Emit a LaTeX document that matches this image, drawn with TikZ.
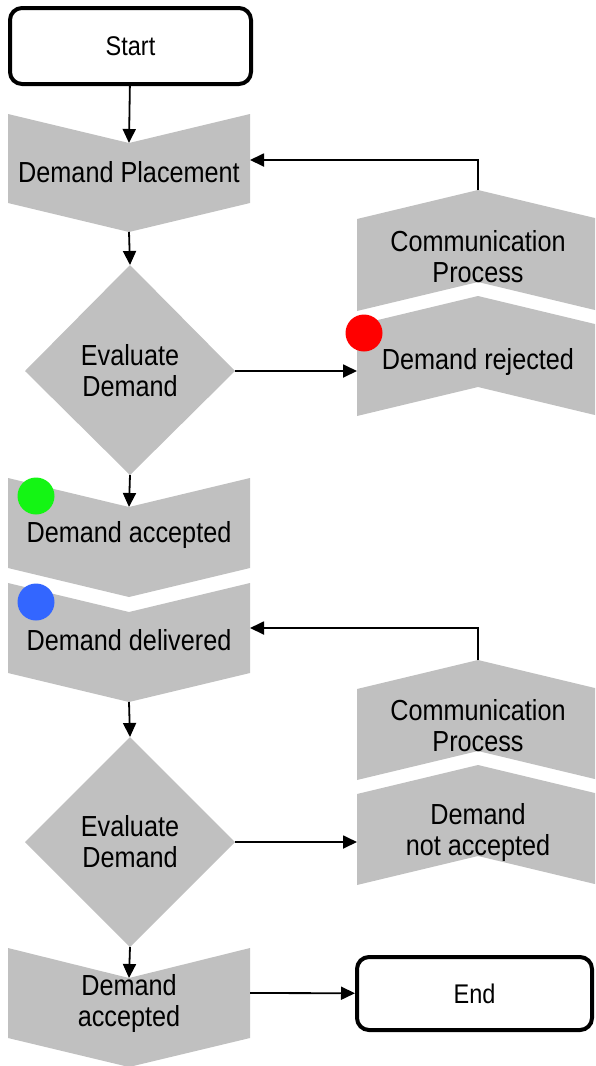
\documentclass[tikz,border=0pt]{standalone}
\usepackage{fontspec}
\setmainfont[FakeStretch=0.87]{Liberation Sans}
\usetikzlibrary{arrows.meta}
\definecolor{shapegray}{RGB}{192,192,192}
\definecolor{dotred}{RGB}{255,0,0}
\definecolor{dotgreen}{RGB}{20,245,20}
\definecolor{dotblue}{RGB}{51,102,255}
\begin{document}
\begin{tikzpicture}[x=1pt,y=-1pt,
  every node/.style={inner sep=0pt, align=center, font=\fontsize{29}{31}\selectfont},
  conn/.style={line width=1.8pt, -{Triangle[length=14pt,width=13pt]}},
  terminal/.style={draw, line width=4pt, rounded corners=12pt, fill=white,
    font=\fontsize{27}{31}\selectfont},
  chev/.style={fill=shapegray},
  dot/.style={circle, minimum size=37pt},
]
\useasboundingbox (0,0) rectangle (595,1066);
\clip (0,0) rectangle (595,1066);

% ---- left column: downward chevrons and decisions ----
% Demand Placement
\fill[chev] (8,114) -- (129,143) -- (250,114) -- (250,203) -- (129,232) -- (8,203) -- cycle;
\coordinate (place-in) at (129,143);
\coordinate (place-out) at (129,232);
\coordinate (place-side) at (250,160);

% first evaluation
\fill[chev] (130,265) -- (235,371) -- (130,475) -- (25,371) -- cycle;
\coordinate (eval1-top) at (130,265);
\coordinate (eval1-right) at (235,371);
\coordinate (eval1-bottom) at (130,475);

% Demand accepted
\fill[chev] (8,478) -- (129,507) -- (250,478) -- (250,568) -- (129,597) -- (8,568) -- cycle;
\coordinate (acc-in) at (129,507);

% Demand delivered
\fill[chev] (8,583) -- (129,612) -- (250,583) -- (250,673) -- (129,702) -- (8,673) -- cycle;
\coordinate (deliv-out) at (129,702);
\coordinate (deliv-side) at (250,628);

% second evaluation
\fill[chev] (130,737) -- (235,842) -- (130,947) -- (25,842) -- cycle;
\coordinate (eval2-top) at (130,737);
\coordinate (eval2-right) at (235,842);
\coordinate (eval2-bottom) at (130,947);

% final acceptance
\fill[chev] (8,948) -- (129,978) -- (250,948) -- (250,1038) -- (129,1067) -- (8,1038) -- cycle;
\coordinate (final-in) at (129,978);
\coordinate (final-side) at (250,993);

% ---- right column: upward chevrons ----
% Communication Process (first)
\fill[chev] (357,219) -- (478,190) -- (599,219) -- (599,311) -- (478,282) -- (357,311) -- cycle;
\coordinate (comm1-top) at (478,190);

% Demand rejected
\fill[chev] (357,325) -- (478,296) -- (599,325) -- (599,416) -- (478,387) -- (357,416) -- cycle;
\coordinate (rej-side) at (357,371);

% Communication Process (second)
\fill[chev] (357,689) -- (478,660) -- (599,689) -- (599,780) -- (478,751) -- (357,780) -- cycle;
\coordinate (comm2-top) at (478,660);

% Demand not accepted
\fill[chev] (357,794) -- (478,765) -- (599,794) -- (599,885) -- (478,856) -- (357,885) -- cycle;
\coordinate (notacc-side) at (357,842);

% ---- status dots ----
\node[dot, fill=dotred] (rej-dot) at (364,333) {};
\node[dot, fill=dotgreen] (acc-dot) at (36,496) {};
\node[dot, fill=dotblue] (deliv-dot) at (36,602) {};

% ---- labels ----
\node (place) at (129,172) {Demand Placement};
\node (eval1) at (130,371) {Evaluate\\Demand};
\node (acc) at (129,535) {Demand accepted};
\node (deliv) at (129,640) {Demand delivered};
\node (eval2) at (130,842) {Evaluate\\Demand};
\node (final) at (129,1003) {Demand\\accepted};
\node (comm1) at (478,257) {Communication\\Process};
\node (rej) at (478,362) {Demand rejected};
\node (comm2) at (478,726) {Communication\\Process};
\node (notacc) at (478,832) {Demand\\not accepted};

% ---- terminals ----
\node[terminal, minimum width=241pt, minimum height=76pt] (start) at (130.5,46) {Start};
\node[terminal, minimum width=235pt, minimum height=73pt] (end) at (474.5,993.5) {End};

% ---- connectors ----
\draw[conn] (start) -- (place-in);
\draw[conn] (place-out) -- (eval1-top);
\draw[conn] (eval1-right) -- (rej-side);
\draw[conn] (comm1-top) |- (place-side);
\draw[conn] (eval1-bottom) -- (acc-in);
\draw[conn] (deliv-out) -- (eval2-top);
\draw[conn] (comm2-top) |- (deliv-side);
\draw[conn] (eval2-right) -- (notacc-side);
\draw[conn] (eval2-bottom) -- (final-in);
\draw[conn] (final-side) -- (end);
\end{tikzpicture}
\end{document}
